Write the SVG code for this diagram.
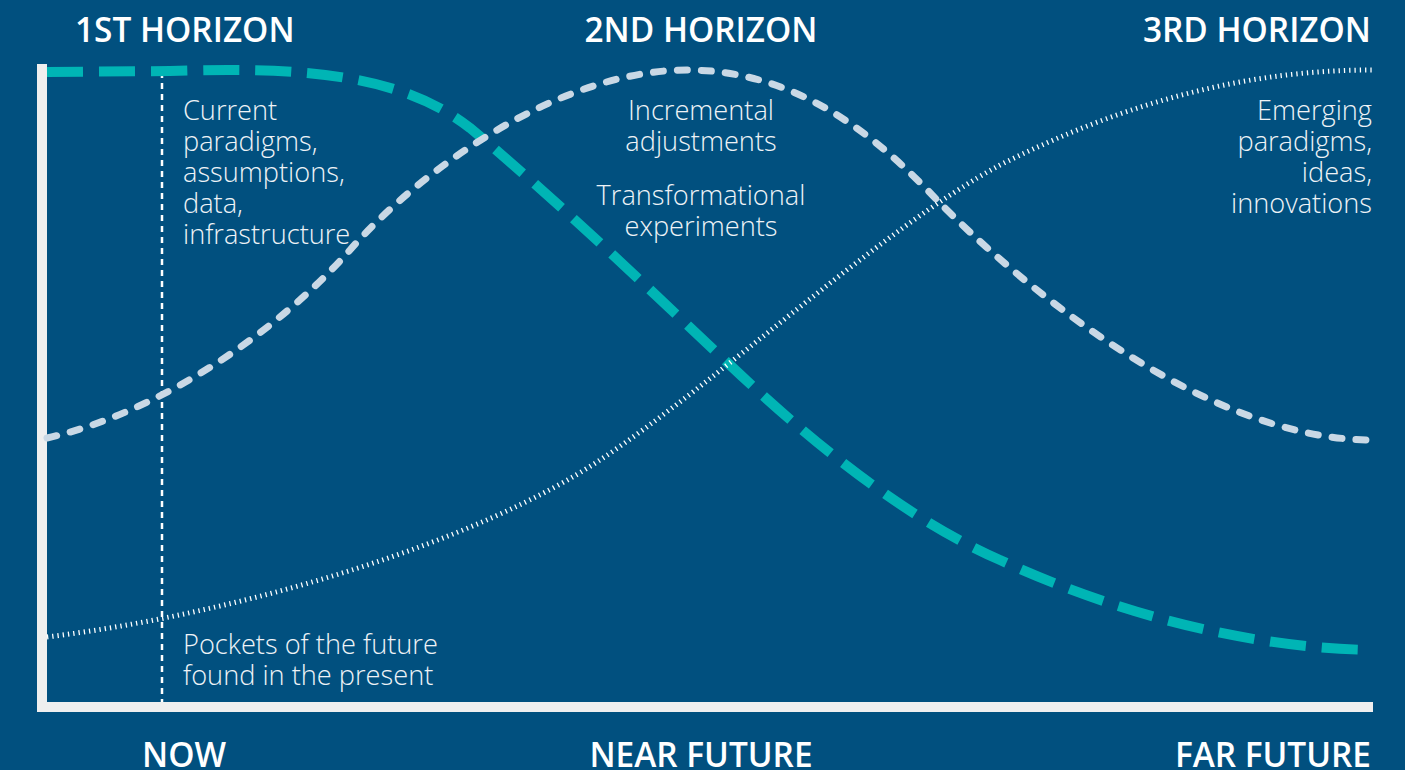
<svg xmlns="http://www.w3.org/2000/svg" width="1405" height="770" viewBox="0 0 1405 770">
<style>
.title{font-family:"Open Sans","Liberation Sans",sans-serif;font-weight:600;font-size:33.4px;fill:#ffffff}
.body{font-family:"Open Sans","Liberation Sans",sans-serif;font-weight:300;font-size:27.2px;fill:#eef3f7}
.axis{stroke:#efefef;stroke-width:10;fill:none}
</style>
<rect width="1405" height="770" fill="#01507f"/>
<g id="axes">
<polyline class="axis" points="42,64 42,707 1373,707"/>
</g>
<g id="connectors" fill="none">
<path id="now-line" d="M162,72 L162,702" stroke="#ffffff" stroke-width="2.5" stroke-dasharray="6 5"/>
<path id="h1-curve" d="M47,72 L170,71 C300,67 400,73 470,128 C560,203 650,290 730,365 C830,460 920,525 1000,560 C1120,615 1250,648 1372,650" stroke="#00b5b5" stroke-width="10" stroke-dasharray="36 16"/>
<path id="h2-curve" d="M47,438 C150,415 270,340 350,250 C420,170 560,70 687,70 C800,70 880,140 937,200 C1010,275 1200,440 1372,440" stroke="#c9d8e5" stroke-width="7" stroke-linecap="round" stroke-dasharray="10 14"/>
<path id="h3-curve" d="M47,637 C250,612 480,540 600,460 C720,380 880,230 1000,165 C1130,100 1250,70 1372,70" stroke="#ffffff" stroke-width="5" stroke-dasharray="1.3 4"/>
</g>
<g id="h1-title"><text class="title" x="75" y="42">1ST HORIZON</text></g>
<g id="h2-title"><text class="title" x="701" y="42" text-anchor="middle">2ND HORIZON</text></g>
<g id="h3-title"><text class="title" x="1371" y="42" text-anchor="end">3RD HORIZON</text></g>
<g id="h1-text"><text class="body" x="183"><tspan x="183" y="120">Current</tspan><tspan x="183" y="151">paradigms,</tspan><tspan x="183" y="182">assumptions,</tspan><tspan x="183" y="213">data,</tspan><tspan x="183" y="244">infrastructure</tspan></text></g>
<g id="h2-text"><text class="body" text-anchor="middle"><tspan x="701" y="120">Incremental</tspan><tspan x="701" y="151">adjustments</tspan><tspan x="701" y="205">Transformational</tspan><tspan x="701" y="236">experiments</tspan></text></g>
<g id="h3-text"><text class="body" text-anchor="end"><tspan x="1372" y="120">Emerging</tspan><tspan x="1372" y="151">paradigms,</tspan><tspan x="1372" y="182">ideas,</tspan><tspan x="1372" y="213">innovations</tspan></text></g>
<g id="pockets-text"><text class="body"><tspan x="183" y="654">Pockets of the future</tspan><tspan x="183" y="685">found in the present</tspan></text></g>
<g id="now-label"><text class="title" x="184" y="767" text-anchor="middle">NOW</text></g>
<g id="near-label"><text class="title" x="701" y="767" text-anchor="middle">NEAR FUTURE</text></g>
<g id="far-label"><text class="title" x="1371" y="767" text-anchor="end">FAR FUTURE</text></g>
</svg>
